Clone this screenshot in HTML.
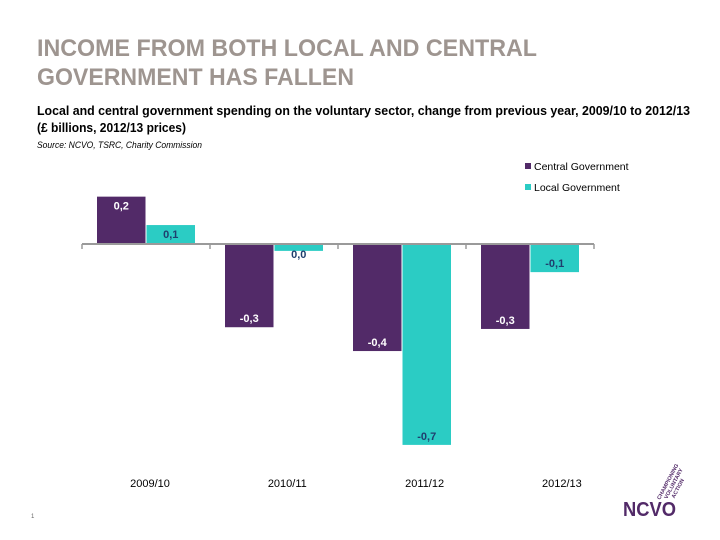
<!DOCTYPE html>
<html><head><meta charset="utf-8"><style>
html,body{margin:0;padding:0;background:#fff;}
svg{display:block;font-family:"Liberation Sans",sans-serif;}
</style></head><body>
<svg id="chart" width="720" height="540" viewBox="0 0 720 540">
<text x="37" y="56" font-size="24" font-weight="bold" fill="#9e9590" textLength="500" lengthAdjust="spacingAndGlyphs">INCOME FROM BOTH LOCAL AND CENTRAL</text>
<text x="37" y="85" font-size="24" font-weight="bold" fill="#9e9590" textLength="317" lengthAdjust="spacingAndGlyphs">GOVERNMENT HAS FALLEN</text>
<text x="37" y="115" font-size="13" font-weight="bold" fill="#000" textLength="653" lengthAdjust="spacingAndGlyphs">Local and central government spending on the voluntary sector, change from previous year, 2009/10 to 2012/13</text>
<text x="37" y="132" font-size="13" font-weight="bold" fill="#000" textLength="149" lengthAdjust="spacingAndGlyphs">(£ billions, 2012/13 prices)</text>
<text x="37" y="148" font-size="9" font-style="italic" fill="#000" textLength="165" lengthAdjust="spacingAndGlyphs">Source: NCVO, TSRC, Charity Commission</text>
<g>
<rect x="525" y="163" width="6" height="6" fill="#522a68"/>
<text x="534" y="170" font-size="10.5" fill="#000">Central Government</text>
<rect x="525" y="184" width="6" height="6" fill="#2bccc4"/>
<text x="534" y="191" font-size="10.5" fill="#000">Local Government</text>
</g>
<g id="plot"></g>
<text x="31" y="518" font-size="6" fill="#666">1</text>
<g>
<text transform="translate(660,500) rotate(-62)" font-size="5.5" font-weight="bold" fill="#522a68"><tspan x="0" y="0">CHAMPIONING</tspan><tspan x="4" y="6">VOLUNTARY</tspan><tspan x="8" y="12">ACTION</tspan></text>
<text x="623" y="516" font-size="20" font-weight="bold" fill="#522a68" textLength="53" lengthAdjust="spacingAndGlyphs">NCVO</text>
</g>
</svg>
<script>
const categories = ["2009/10","2010/11","2011/12","2012/13"];
const centralValues = [0.165,-0.29,-0.373,-0.296];
const localValues = [0.066,-0.024,-0.70,-0.098];
const centralLabels = ["0,2","-0,3","-0,4","-0,3"];
const localLabels = ["0,1","0,0","-0,7","-0,1"];

const NS="http://www.w3.org/2000/svg";
const plot=document.getElementById('plot');
const x0=82, x1=594, zeroY=244, pxPerUnit=287;
const catW=(x1-x0)/categories.length;
const labelStart=150, labelStep=137.3;
function yScale(v){return zeroY - v*pxPerUnit;}
function xCat(i){return x0 + i*catW;}
function mk(tag,attrs){const e=document.createElementNS(NS,tag);for(const k in attrs)e.setAttribute(k,attrs[k]);plot.appendChild(e);return e;}

function drawBar(v,x,w,color,label,labelColor,name,i){
  const y=Math.min(yScale(v),zeroY), h=Math.abs(yScale(v)-zeroY);
  const r=mk('rect',{x:x,y:y,width:w,height:Math.max(h,0.5),fill:color});
  
  
  let ty = v>=0 ? yScale(v)+13 : yScale(v)-5;
  if (h<14) ty = v>=0 ? yScale(v)+13 : zeroY+14;
  const t=mk('text',{x:x+w/2,y:ty,'font-size':11,'font-weight':'bold','text-anchor':'middle',fill:labelColor});
  t.textContent=label;
  
  
}
const bw=48.5;
categories.forEach((c,i)=>{
  const cx=xCat(i)+catW/2;
  drawBar(centralValues[i],cx-bw-0.5,bw,'#522a68',centralLabels[i],'#fff','central',i);
  drawBar(localValues[i],cx+0.5,bw,'#2bccc4',localLabels[i],'#1f3f6e','local',i);
  const t=mk('text',{x:labelStart+i*labelStep,y:487,'font-size':11,'text-anchor':'middle',fill:'#000'});
  t.textContent=c;
  
  
});
const ax=mk('line',{x1:x0,y1:zeroY,x2:x1,y2:zeroY,stroke:'#9a9a9a','stroke-width':2});


for(let i=0;i<=categories.length;i++){
  const tk=mk('line',{x1:xCat(i),y1:zeroY,x2:xCat(i),y2:zeroY+5,stroke:'#9a9a9a','stroke-width':1.5});
  
  
}
</script>
</body></html>
